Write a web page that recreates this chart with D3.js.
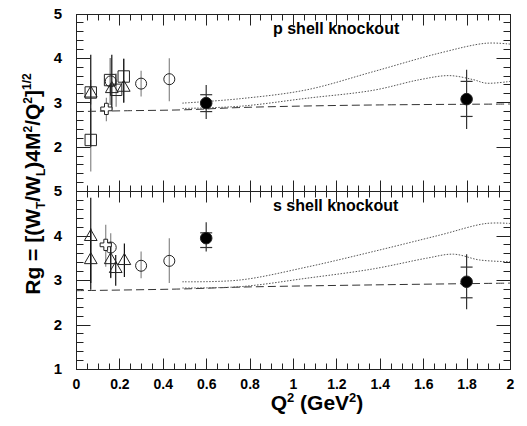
<!DOCTYPE html>
<html>
<head>
<meta charset="utf-8">
<script src="https://cdn.jsdelivr.net/npm/d3@7"></script>
<style>
  body { margin: 0; background: #fff; }
  text { font-family: "Liberation Sans", Arial, sans-serif; font-weight: bold; }
</style>
</head>
<body>
<div id="chart"></div>
<script>
// tick labels
var xTicks = [0, 0.2, 0.4, 0.6, 0.8, 1, 1.2, 1.4, 1.6, 1.8, 2];
var yTicksTop = [2, 3, 4, 5];
var yTicksBottom = [1, 2, 3, 4, 5];

// p shell knockout data: q2, rg, lo, hi
var pSquares = [
  {q2: 0.068, rg: 3.22, lo: 2.95, hi: 3.5},
  {q2: 0.068, rg: 2.15, lo: 1.44, hi: 2.86},
  {q2: 0.157, rg: 3.5, lo: 2.94, hi: 4.0},
  {q2: 0.185, rg: 3.28, lo: 2.9, hi: 3.65},
  {q2: 0.22, rg: 3.58, lo: 3.0, hi: 3.98}
];
var pTriangles = [
  {q2: 0.068, rg: 3.2, lo: 2.0, hi: 4.07},
  {q2: 0.165, rg: 3.3, lo: 2.83, hi: 4.07},
  {q2: 0.22, rg: 3.33, lo: 2.99, hi: 3.98}
];
var pCircles = [
  {q2: 0.16, rg: 3.47, lo: 2.94, hi: 4.0},
  {q2: 0.30, rg: 3.42, lo: 3.13, hi: 3.71},
  {q2: 0.43, rg: 3.52, lo: 3.02, hi: 3.99}
];
var pCrosses = [
  {q2: 0.14, rg: 2.85, lo: 2.57, hi: 3.1}
];
var pFilled = [
  {q2: 0.6, rg: 2.98, lo: 2.79, hi: 3.17, sysLo: 2.62, sysHi: 3.39},
  {q2: 1.8, rg: 3.07, lo: 2.68, hi: 3.47, sysLo: 2.40, sysHi: 3.73}
];
var pDashed = [[0, 2.79], [0.25, 2.81], [0.5, 2.83], [0.75, 2.88], [1.0, 2.91], [1.4, 2.94], [2.0, 2.96]];
var pUpper = [[0.49, 2.98], [0.756, 3.08], [1.063, 3.28], [1.37, 3.69], [1.677, 4.11], [1.89, 4.33], [2.0, 4.31]];
var pMiddle = [[0.49, 2.86], [0.756, 2.91], [1.063, 3.09], [1.37, 3.27], [1.585, 3.51], [1.72, 3.6], [1.83, 3.51], [1.89, 3.43], [2.0, 3.47]];

// s shell knockout data
var sSquares = [];
var sTriangles = [
  {q2: 0.068, rg: 3.97, lo: 2.78, hi: 4.85},
  {q2: 0.068, rg: 3.45, lo: 2.93, hi: 4.16},
  {q2: 0.16, rg: 3.45, lo: 3.05, hi: 3.85},
  {q2: 0.183, rg: 3.25, lo: 2.87, hi: 3.56},
  {q2: 0.223, rg: 3.43, lo: 3.07, hi: 3.82}
];
var sCircles = [
  {q2: 0.16, rg: 3.73, lo: 3.04, hi: 4.05},
  {q2: 0.30, rg: 3.32, lo: 3.04, hi: 3.64},
  {q2: 0.43, rg: 3.43, lo: 2.93, hi: 3.94}
];
var sCrosses = [
  {q2: 0.137, rg: 3.79, lo: 3.3, hi: 4.24}
];
var sFilled = [
  {q2: 0.6, rg: 3.94, lo: 3.73, hi: 4.06, sysLo: 3.64, sysHi: 4.30},
  {q2: 1.8, rg: 2.96, lo: 2.60, hi: 3.29, sysLo: 2.34, sysHi: 3.58}
];
var sDashed = [[0, 2.76], [0.5, 2.8], [0.756, 2.84], [1.37, 2.89], [2.0, 2.93]];
var sUpper = [[0.49, 2.96], [0.756, 3.0], [1.063, 3.29], [1.37, 3.64], [1.677, 4.01], [1.89, 4.27], [2.0, 4.27]];
var sMiddle = [[0.49, 2.82], [0.756, 2.85], [1.063, 3.04], [1.37, 3.25], [1.616, 3.49], [1.74, 3.58], [1.86, 3.45], [2.0, 3.41]];

var width = 527, height = 426;
var left = 76, right = 510;

var svg = d3.select("#chart")
    .append("svg")
    .attr("width", width)
    .attr("height", height);

var x = d3.scaleLinear().domain([0, 2]).range([left, right]);

var panels = [
  {top: 13.5, bottom: 191, title: "p shell knockout", yTicks: yTicksTop,
   squares: pSquares, triangles: pTriangles, circles: pCircles, crosses: pCrosses, filled: pFilled,
   dashed: pDashed, upper: pUpper, middle: pMiddle},
  {top: 191, bottom: 369, title: "s shell knockout", yTicks: yTicksBottom,
   squares: sSquares, triangles: sTriangles, circles: sCircles, crosses: sCrosses, filled: sFilled,
   dashed: sDashed, upper: sUpper, middle: sMiddle}
];

var tickColor = "#222";
var xMinor = d3.range(0, 2.0001, 0.05);
var yMinor = d3.range(1, 5.0001, 0.2);

panels.forEach(function(p) {
  var y = d3.scaleLinear().domain([1, 5]).range([p.bottom, p.top]);
  p.y = y;
  var g = svg.append("g");

  // y tick labels
  var yl = g.append("g")
    .attr("transform", "translate(" + left + ",0)")
    .call(d3.axisLeft(y).tickValues(p.yTicks).tickSize(0).tickPadding(14).tickFormat(d3.format("d")));
  yl.select(".domain").remove();
  yl.selectAll("text").attr("font-size", 15).attr("fill", "#000");

  // curves
  var curve = d3.line()
    .x(function(d) { return x(d[0]); })
    .y(function(d) { return y(d[1]); })
    .curve(d3.curveCatmullRom);
  g.append("path").datum(p.dashed)
    .attr("fill", "none").attr("stroke", "#333").attr("stroke-width", 1)
    .attr("stroke-dasharray", "8,4").attr("d", curve);
  [p.upper, p.middle].forEach(function(c) {
    g.append("path").datum(c)
      .attr("fill", "none").attr("stroke", "#555").attr("stroke-width", 1)
      .attr("stroke-dasharray", "1.5,1.5").attr("d", curve);
  });

  // error bars
  function bars(data, color) {
    g.append("g").selectAll("line").data(data).enter().append("line")
      .attr("x1", function(d) { return x(d.q2); })
      .attr("x2", function(d) { return x(d.q2); })
      .attr("y1", function(d) { return y(d.lo); })
      .attr("y2", function(d) { return y(d.hi); })
      .attr("stroke", color).attr("stroke-width", 1.2);
  }
  bars(p.squares, "#888");
  bars(p.circles, "#888");
  bars(p.crosses, "#888");
  bars(p.triangles, "#111");

  // filled points: total error line + statistical caps
  g.append("g").selectAll("line").data(p.filled).enter().append("line")
    .attr("x1", function(d) { return x(d.q2); })
    .attr("x2", function(d) { return x(d.q2); })
    .attr("y1", function(d) { return y(d.sysLo); })
    .attr("y2", function(d) { return y(d.sysHi); })
    .attr("stroke", "#333").attr("stroke-width", 1.2);
  ["lo", "hi"].forEach(function(k) {
    g.append("g").selectAll("line").data(p.filled).enter().append("line")
      .attr("x1", function(d) { return x(d.q2) - 6; })
      .attr("x2", function(d) { return x(d.q2) + 6; })
      .attr("y1", function(d) { return y(d[k]); })
      .attr("y2", function(d) { return y(d[k]); })
      .attr("stroke", "#333").attr("stroke-width", 1.2);
  });

  // markers
  function markers(data, type, size, fill) {
    g.append("g").selectAll("path").data(data).enter().append("path")
      .attr("transform", function(d) { return "translate(" + x(d.q2) + "," + y(d.rg) + ")"; })
      .attr("d", d3.symbol().type(type).size(size))
      .attr("fill", fill).attr("stroke", "#222").attr("stroke-width", 1);
  }
  markers(p.squares, d3.symbolSquare, 130, "none");
  markers(p.triangles, d3.symbolTriangle, 70, "none");
  markers(p.circles, d3.symbolCircle, 95, "none");
  markers(p.crosses, d3.symbolCross, 70, "#fff");
  markers(p.filled, d3.symbolCircle, 105, "#000");

  // panel title
  g.append("text")
    .attr("x", 273).attr("y", p.top + 20)
    .attr("font-size", 16).attr("fill", "#000")
    .text(p.title);
});

// frames and inward ticks as paths, drawn on top
panels.forEach(function(p) {
  var y = p.y;
  var t = Math.round(p.top) + 0.5, b = Math.round(p.bottom) + 0.5;
  var l = left + 0.5, r = right + 0.5;
  var path = d3.path();
  path.rect(l, t, r - l, b - t);
  function xMarks(vals, len) {
    vals.forEach(function(d) {
      var px = Math.round(x(d)) + 0.5;
      path.moveTo(px, b); path.lineTo(px, b - len);
      path.moveTo(px, t); path.lineTo(px, t + len);
    });
  }
  function yMarks(vals, len) {
    vals.forEach(function(d) {
      var py = Math.round(y(d)) + 0.5;
      path.moveTo(l, py); path.lineTo(l + len, py);
      path.moveTo(r, py); path.lineTo(r - len, py);
    });
  }
  xMarks(xMinor, 6);
  xMarks(xTicks, 11);
  yMarks(yMinor, 7);
  yMarks([1, 2, 3, 4, 5], 14);
  svg.append("path")
    .attr("d", path.toString())
    .attr("fill", "none")
    .attr("stroke", tickColor)
    .attr("stroke-width", 1);
});

// x tick labels
var xl = svg.append("g")
  .attr("transform", "translate(0,369)")
  .call(d3.axisBottom(x).tickValues(xTicks).tickSize(0).tickPadding(10).tickFormat(d3.format("")));
xl.select(".domain").remove();
xl.selectAll("text").attr("font-size", 14).attr("fill", "#000");

// x axis title
var xt = svg.append("text")
  .attr("x", 317).attr("y", 410)
  .attr("text-anchor", "middle")
  .attr("font-size", 21);
xt.append("tspan").text("Q");
xt.append("tspan").attr("dy", -8).attr("font-size", 13).text("2");
xt.append("tspan").attr("dy", 8).text(" (GeV");
xt.append("tspan").attr("dy", -8).attr("font-size", 13).text("2");
xt.append("tspan").attr("dy", 8).text(")");

// y axis title
var yt = svg.append("text")
  .attr("transform", "translate(40,184) rotate(-90)")
  .attr("text-anchor", "middle")
  .attr("font-size", 21);
yt.append("tspan").text("Rg = [(W");
yt.append("tspan").attr("dy", 5).attr("font-size", 12).text("T");
yt.append("tspan").attr("dy", -5).text("/W");
yt.append("tspan").attr("dy", 5).attr("font-size", 12).text("L");
yt.append("tspan").attr("dy", -5).text(")4M");
yt.append("tspan").attr("dy", -8).attr("font-size", 12).text("2");
yt.append("tspan").attr("dy", 8).text("/Q");
yt.append("tspan").attr("dy", -8).attr("font-size", 12).text("2");
yt.append("tspan").attr("dy", 8).text("]");
yt.append("tspan").attr("dy", -9).attr("font-size", 12).text("1/2");
</script>
</body>
</html>
